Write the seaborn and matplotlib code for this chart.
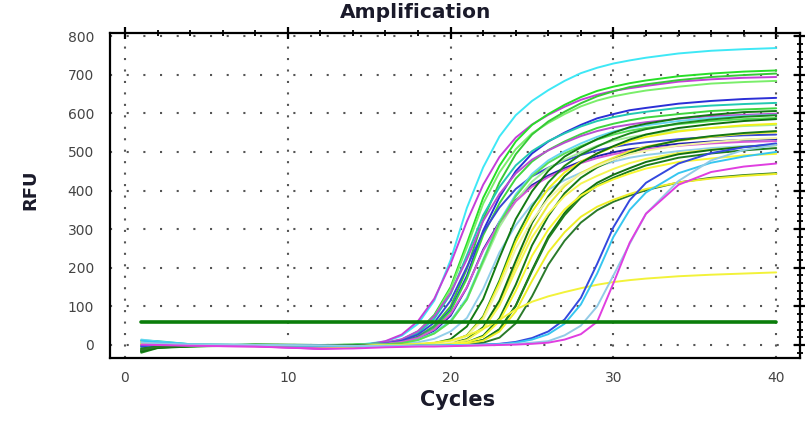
import numpy as np
import pandas as pd
import matplotlib
matplotlib.use("Agg")
import matplotlib.pyplot as plt
import seaborn as sns
from matplotlib.ticker import MultipleLocator

# ---------------- data ----------------
CYCLES = [1, 2, 4, 8, 12, 14, 16, 17, 18, 19, 20, 21, 22, 23, 24, 25, 26,
          27, 28, 29, 30, 31, 32, 34, 36, 38, 40]

# early group
A1 = [-8, 6, -2, 1, -3, -1, 9, 24, 55, 115, 220, 355, 460, 540, 595, 632, 660, 684, 704, 718, 729, 737, 744, 755, 762, 766, 769]
A2 = [10, 4, 0, -2, -9, -6, 10, 27, 62, 120, 210, 320, 415, 487, 537, 571, 596, 617, 635, 648, 658, 665, 671, 682, 688, 692, 694]
A3 = [-15, -4, -3, 0, -2, 0, 5, 14, 35, 78, 150, 263, 381, 464, 527, 570, 598, 622, 642, 658, 669, 678, 685, 696, 703, 708, 711]
A4 = [5, 8, 1, -1, -4, -2, 5, 13, 33, 74, 145, 253, 366, 447, 507, 548, 575, 598, 618, 633, 644, 652, 659, 669, 677, 681, 684]
A5 = [-18, -6, -4, 1, -1, 1, 3, 9, 22, 50, 100, 197, 325, 421, 494, 545, 579, 604, 626, 644, 657, 668, 675, 686, 694, 699, 703]
A6 = [2, 0, -1, 0, -3, -2, 3, 8, 20, 45, 92, 179, 296, 383, 450, 496, 527, 550, 570, 587, 598, 608, 614, 625, 632, 637, 640]
A7 = [12, 10, 2, -1, -2, 0, 5, 13, 31, 68, 132, 232, 336, 409, 465, 502, 528, 548, 566, 580, 590, 598, 604, 614, 620, 624, 627]
A8 = [-10, -2, -2, 1, 0, 1, 3, 8, 19, 44, 88, 172, 284, 367, 431, 475, 505, 527, 546, 562, 573, 582, 589, 598, 606, 610, 613]
A9 = [7, 3, -1, -3, -10, -7, 6, 15, 36, 75, 135, 222, 321, 391, 444, 480, 504, 524, 541, 554, 564, 571, 577, 586, 593, 596, 599]
A10 = [-3, 2, 0, -1, -2, -1, 4, 11, 27, 58, 115, 202, 292, 356, 404, 437, 459, 477, 492, 504, 513, 520, 525, 533, 539, 543, 545]
A11 = [0, -1, -2, -2, -3, -2, 2, 7, 17, 37, 76, 149, 247, 319, 375, 414, 439, 458, 475, 489, 499, 507, 512, 521, 527, 531, 533]
A12 = [8, 5, 1, 0, -1, 0, 1, 3, 7, 16, 35, 70, 145, 240, 310, 365, 402, 427, 446, 462, 475, 485, 492, 502, 510, 515, 517]
A13 = [-12, -3, -1, 1, 0, 0, 2, 5, 13, 30, 60, 118, 212, 306, 373, 423, 458, 480, 499, 516, 529, 538, 545, 555, 562, 567, 570]
A14 = [14, 9, 2, 0, -2, -1, 2, 6, 14, 32, 63, 122, 221, 320, 390, 443, 478, 502, 522, 539, 553, 562, 569, 580, 588, 593, 596]
A15 = [3, 1, -2, -4, -9, -5, 3, 8, 18, 40, 80, 150, 244, 316, 372, 410, 435, 454, 471, 484, 494, 502, 507, 516, 522, 526, 528]
A16 = [-6, 0, -1, 0, -1, 0, 2, 5, 13, 30, 60, 118, 218, 316, 385, 437, 472, 496, 515, 532, 545, 555, 562, 572, 580, 585, 588]

# middle group
B1 = [-14, -5, -3, 0, -1, 0, 0, 1, 1, 5, 15, 48, 119, 226, 326, 398, 451, 488, 512, 533, 550, 564, 573, 587, 596, 603, 606]
B2 = [-20, -8, -4, -1, -2, -1, 0, 0, 1, 2, 8, 25, 74, 167, 277, 358, 421, 464, 493, 514, 533, 548, 559, 574, 584, 591, 595]
B3 = [6, 2, 0, -1, -2, -3, 0, 0, 1, 2, 8, 24, 71, 161, 266, 345, 405, 447, 475, 495, 513, 528, 539, 553, 562, 569, 573]
B4 = [4, 1, -1, -2, -3, -4, 0, 0, 1, 1, 4, 14, 43, 108, 206, 297, 363, 411, 445, 467, 485, 502, 514, 529, 539, 547, 551]
B5 = [-17, -7, -3, 0, -1, -1, 0, 0, 1, 1, 5, 15, 46, 115, 218, 316, 385, 437, 472, 496, 515, 532, 545, 562, 572, 580, 585]
B6 = [-11, -4, -2, 1, 0, -1, 0, 0, 0, 1, 2, 7, 24, 69, 156, 258, 334, 393, 433, 460, 480, 497, 512, 530, 541, 549, 554]
B7 = [9, 4, 1, 0, -2, -3, 0, 0, 1, 1, 4, 13, 41, 102, 193, 279, 340, 386, 418, 438, 456, 471, 482, 497, 506, 513, 517]
B8 = [-16, -6, -3, -1, -2, -2, -1, 0, 0, 1, 1, 4, 13, 41, 102, 194, 281, 342, 389, 420, 441, 458, 474, 494, 505, 513, 519]
B9 = [-9, -3, -1, 0, -1, -1, 0, 0, 0, 1, 1, 4, 13, 40, 101, 191, 276, 336, 382, 413, 433, 450, 465, 485, 496, 504, 510]
B10 = [-13, -5, -2, 0, -1, -2, -1, -1, 0, 0, 0, 2, 6, 19, 56, 126, 208, 270, 317, 349, 371, 387, 401, 421, 433, 440, 445]
B11 = [3, 2, 0, -1, -3, -4, -1, 0, 0, 0, 1, 4, 11, 35, 87, 166, 240, 292, 332, 358, 376, 391, 404, 421, 431, 438, 443]
B12 = [5, 3, 1, 0, -2, -3, 0, 0, 1, 2, 7, 23, 66, 151, 249, 322, 379, 417, 443, 463, 480, 494, 503, 517, 525, 532, 536]
B13 = [2, 1, -1, -2, -3, -4, 0, 0, 0, 1, 2, 7, 21, 62, 140, 231, 299, 351, 387, 411, 429, 444, 457, 474, 483, 491, 495]
YL = [4, 2, 0, -1, -3, -4, 0, 1, 3, 6, 12, 24, 42, 65, 92, 112, 126, 137, 147, 156, 163, 168, 172, 178, 182, 185, 188]

# late group
C1 = [-4, 1, -1, -1, -2, -3, -3, -3, -2, -2, -1, 0, 1, 3, 8, 18, 35, 66, 122, 210, 305, 375, 420, 470, 497, 512, 522]
C2 = [11, 7, 2, 0, -2, -3, -2, -2, -1, -1, 0, 0, 1, 2, 6, 14, 28, 55, 105, 185, 280, 350, 395, 445, 472, 488, 500]
C3 = [6, 4, 1, 0, -1, -2, -3, -3, -3, -2, -2, -1, 0, 1, 3, 6, 10, 25, 50, 100, 180, 262, 340, 425, 478, 505, 518]
C4 = [1, 0, -2, -4, -10, -9, -6, -5, -4, -4, -3, -2, -1, 0, 1, 3, 6, 14, 28, 60, 160, 265, 340, 415, 448, 462, 470]

WELL_NAMES = ["A1", "A2", "A3", "A4", "A5", "A6", "A7", "A8", "A9", "A10", "A11",
              "A12", "A13", "A14", "A15", "A16", "B1", "B2", "B3", "B4", "B5",
              "B6", "B7", "B8", "B9", "B10", "B11", "B12", "B13", "YL",
              "C1", "C2", "C3", "C4"]
WELL_VALUES = [A1, A2, A3, A4, A5, A6, A7, A8, A9, A10, A11, A12, A13, A14, A15,
               A16, B1, B2, B3, B4, B5, B6, B7, B8, B9, B10, B11, B12, B13, YL,
               C1, C2, C3, C4]
WELL_COLORS = ["#3ee8f6", "#c43fd8", "#27df27", "#7aee6a", "#36c936", "#2b2fd6",
               "#22c9b2", "#3fd63f", "#b84fd0", "#3a47d2", "#1f21ad", "#92cfea",
               "#a6ee9a", "#66d8f0", "#d65ad6", "#57de57",
               "#127a12", "#1d881d", "#f2f21c", "#eaea3a", "#0f6f0f", "#167816",
               "#f5f552", "#117211", "#1e7e1e", "#2a7a2a", "#eeee28", "#f3f3a4",
               "#f7f732", "#f2f23a",
               "#3348de", "#36c6f0", "#93cbe6", "#e03ee0"]

THRESH_X = [1, 40]
THRESH_Y = [60, 60]

X_TICKS = [0, 10, 20, 30, 40]
Y_TICKS = [0, 100, 200, 300, 400, 500, 600, 700, 800]

# ---------------- build long table ----------------
rows = []
for name, vals in zip(WELL_NAMES, WELL_VALUES):
    for c, v in zip(CYCLES, vals):
        rows.append({"Well": name, "Cycle": c, "RFU": v})
df = pd.DataFrame(rows)
thr = pd.DataFrame({"Cycle": THRESH_X, "RFU": THRESH_Y})

sns.set_theme(style="white")
plt.rcParams["font.family"] = ["DejaVu Sans"]

W, H = 805, 421
fig = plt.figure(figsize=(W / 100, H / 100), dpi=100)
ax = fig.add_axes([110 / W, 1 - 358 / H, 690 / W, 325 / H])

sns.lineplot(data=df, x="Cycle", y="RFU", hue="Well", hue_order=WELL_NAMES,
             palette=dict(zip(WELL_NAMES, WELL_COLORS)), estimator=None,
             legend=False, linewidth=1.4, ax=ax, zorder=3)
sns.lineplot(data=thr, x="Cycle", y="RFU", color="#0a7d0a", linewidth=2.6,
             ax=ax, zorder=5)

ax.set_xlim(-0.92, 41.46)
ax.set_ylim(-33.7, 808)
ax.set_xticks(X_TICKS)
ax.set_yticks(Y_TICKS)
ax.xaxis.set_minor_locator(MultipleLocator(2))
ax.yaxis.set_minor_locator(MultipleLocator(20))

ax.set_axisbelow(True)
ax.xaxis.grid(True, which="major", linestyle=(0, (1, 4.5)), linewidth=1.5,
              color="#555555")
ax.yaxis.grid(True, which="major", linestyle=(0, (1, 7)), linewidth=1.5,
              color="#555555")

for s in ax.spines.values():
    s.set_visible(True)
    s.set_color("black")
    s.set_linewidth(1.6)

ax.tick_params(which="major", direction="inout", length=9, width=1.6,
               top=True, right=True, colors="black", labelcolor="#444444",
               labelsize=10)
ax.tick_params(which="minor", direction="inout", length=5, width=1.3,
               top=True, right=True, colors="black")
ax.tick_params(axis="y", which="major", pad=7)
ax.tick_params(axis="x", which="major", pad=5)

ax.set_xlabel("Cycles", fontsize=15, fontweight="bold", color="#1a1a2a")
ax.xaxis.label.set_va("center")
ax.xaxis.set_label_coords((458 - 110) / 690, (358 - 400) / 325)
ax.set_ylabel("RFU", fontsize=13, fontweight="bold", color="#1a1a2a")
ax.yaxis.label.set_va("center")
ax.yaxis.set_label_coords((30 - 110) / 690, (358 - 190) / 325)

fig.text(416 / W, 1 - 13 / H, "Amplification", ha="center", va="center",
         fontsize=14.5, fontweight="bold", color="#1a1a2a")

fig.savefig("out.png", dpi=100, facecolor="white")
